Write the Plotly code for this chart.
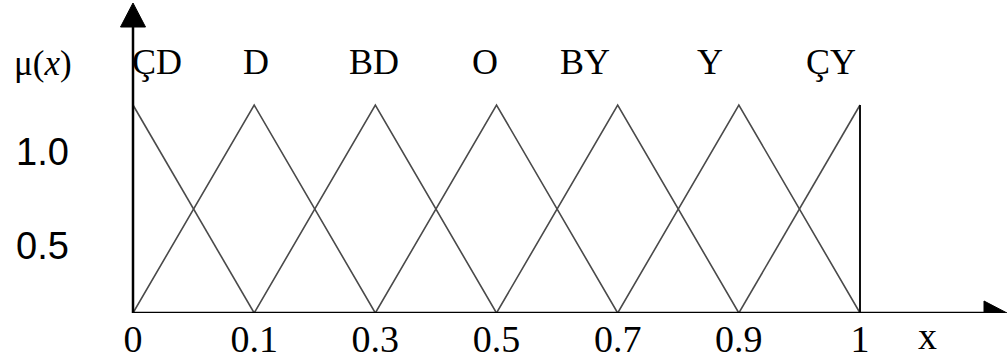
import plotly.graph_objects as go

# Linguistic terms and the crisp values at which each term peaks
set_names = ["ÇD", "D", "BD", "O", "BY", "Y", "ÇY"]
tick_labels = ["0", "0.1", "0.3", "0.5", "0.7", "0.9", "1"]
peak_membership = [1.0, 1.0, 1.0, 1.0, 1.0, 1.0, 1.0]
y_labels = ["1.0", "0.5"]

# Canvas geometry (pixels)
W, H = 1008, 362
X0_PX, STEP_PX = 133, 121.17      # pixel of first peak, spacing between peaks
BASE_PX, UNIT_PX = 313, 208       # pixel of baseline, pixels per membership unit


def py(p):
    """Pixel row -> membership coordinate."""
    return (BASE_PX - p) / UNIT_PX


def px(p):
    """Pixel column -> x coordinate."""
    return (p - X0_PX) / STEP_PX


n = len(set_names)
fig = go.Figure()

# One triangular membership function per term
for i, (name, top) in enumerate(zip(set_names, peak_membership)):
    xs, ys = [], []
    if i > 0:
        xs.append(i - 1); ys.append(0)
    xs.append(i); ys.append(top)
    if i < n - 1:
        xs.append(i + 1); ys.append(0)
    fig.add_trace(go.Scatter(x=xs, y=ys, mode="lines", name=name,
                             line=dict(color="#4a4a4a", width=1.6),
                             hoverinfo="skip", showlegend=False))

# Closing edge of the last set
fig.add_trace(go.Scatter(x=[n - 1, n - 1], y=[0, peak_membership[-1]], mode="lines",
                         line=dict(color="#111111", width=2),
                         hoverinfo="skip", showlegend=False))

serif = "Liberation Serif"
shapes = [
    # horizontal axis with arrow
    dict(type="line", xref="x", yref="y", x0=0, y0=0, x1=px(990), y1=0,
         line=dict(color="black", width=2.5)),
    dict(type="path", xref="x", yref="y",
         path=f"M {px(984)} {py(BASE_PX-12)} L {px(1007)} 0 L {px(984)} {py(BASE_PX+12)} Z",
         fillcolor="black", line=dict(color="black", width=1)),
    # vertical axis with arrow
    dict(type="line", xref="x", yref="y", x0=0, y0=0, x1=0, y1=py(22),
         line=dict(color="black", width=2.5)),
    dict(type="path", xref="x", yref="y",
         path=f"M {px(X0_PX-12.5)} {py(27)} L 0 {py(3)} L {px(X0_PX+12.5)} {py(27)} Z",
         fillcolor="black", line=dict(color="black", width=1)),
]

annotations = []
# term names above the peaks
label_shift = [24, 2, -1, -12, -33, -29, -29]
for i, name in enumerate(set_names):
    annotations.append(dict(x=i, y=py(62), xref="x", yref="y", text=name,
                            showarrow=False, xshift=label_shift[i],
                            font=dict(family=serif, size=36, color="black")))
# membership-axis captions
for lbl, row in zip(y_labels, [152, 246]):
    annotations.append(dict(x=px(42), y=py(row), xref="x", yref="y", text=lbl,
                            showarrow=False,
                            font=dict(family="Liberation Sans", size=38, color="black")))
annotations.append(dict(x=px(43), y=py(63), xref="x", yref="y", text="μ(<i>x</i>)",
                        showarrow=False, font=dict(family=serif, size=35, color="black")))
# horizontal-axis caption, placed in paper space below the plotting area
annotations.append(dict(x=927 / W, y=(BASE_PX - 336) / BASE_PX, xref="paper", yref="paper",
                        xanchor="center", yanchor="middle",
                        text="x", showarrow=False,
                        font=dict(family=serif, size=38, color="black")))

fig.update_layout(
    width=W, height=H,
    margin=dict(l=0, r=0, t=0, b=H - BASE_PX, pad=0),
    paper_bgcolor="white", plot_bgcolor="white",
    shapes=shapes, annotations=annotations,
    xaxis=dict(range=[px(0), px(W)], tickvals=list(range(n)), ticktext=tick_labels,
               showgrid=False, zeroline=False, showline=False, ticks="",
               tickfont=dict(family=serif, size=38, color="black"), fixedrange=True),
    yaxis=dict(range=[0, py(0)], showgrid=False, zeroline=False, showline=False,
               showticklabels=False, ticks="", fixedrange=True),
)

fig.write_html("out.html")
